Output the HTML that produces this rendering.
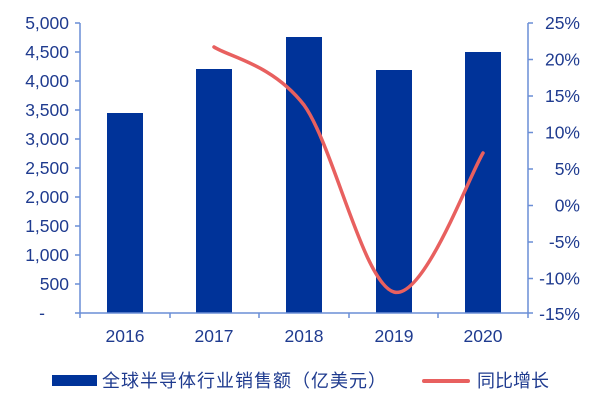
<!DOCTYPE html>
<html><head><meta charset="utf-8"><style>
body{margin:0;background:#fff;}
svg{display:block;font-family:"Liberation Sans","Noto Sans CJK SC",sans-serif;}
</style></head><body>
<svg width="600" height="400" viewBox="0 0 600 400">
<g fill="#003399">
<rect x="107" y="113" width="36" height="200"/>
<rect x="196" y="69" width="36" height="244"/>
<rect x="286" y="37" width="36" height="276"/>
<rect x="376" y="70" width="36" height="243"/>
<rect x="465" y="52" width="36" height="261"/>
</g>
<g stroke="#6a8ed6" stroke-width="1.5" fill="none">
<line x1="80" y1="23" x2="80" y2="313"/>
<line x1="528" y1="23" x2="528" y2="313"/>
<line x1="80" y1="313" x2="528" y2="313"/>
<path d="M75 23H80M75 52H80M75 81H80M75 110H80M75 139H80M75 168H80M75 197H80M75 226H80M75 255H80M75 284H80M75 313H80"/>
<path d="M528 23H533M528 59.5H533M528 96H533M528 132.5H533M528 169H533M528 205.5H533M528 242H533M528 278.5H533M528 313H533"/>
<path d="M80 313V318M170 313V318M259 313V318M349 313V318M438 313V318M528 313V318"/>
</g>
<path d="M214 47 C228.7 56.7 272.5 64.2 304 105 C333.5 145.8 363.5 283.7 394 292 C423.5 300.3 468.2 177.8 483 153" stroke="#e8605f" stroke-width="3.5" fill="none" stroke-linecap="round"/>
<g fill="#1f3b8f" font-size="17.5" text-anchor="end">
<text x="69" y="29">5,000</text><text x="69" y="58">4,500</text><text x="69" y="87">4,000</text>
<text x="69" y="116">3,500</text><text x="69" y="145">3,000</text><text x="69" y="174">2,500</text>
<text x="69" y="203">2,000</text><text x="69" y="232">1,500</text><text x="69" y="261">1,000</text>
<text x="69" y="290">500</text><text x="45" y="319">-</text>
</g>
<g fill="#1f3b8f" font-size="17.5" text-anchor="end">
<text x="580" y="29">25%</text><text x="580" y="65.5">20%</text><text x="580" y="102">15%</text>
<text x="580" y="138.5">10%</text><text x="580" y="175">5%</text><text x="580" y="211.5">0%</text>
<text x="580" y="248">-5%</text><text x="580" y="284.5">-10%</text><text x="580" y="320">-15%</text>
</g>
<g fill="#1f3b8f" font-size="17.5" text-anchor="middle">
<text x="125" y="342">2016</text><text x="214" y="342">2017</text><text x="304" y="342">2018</text>
<text x="394" y="342">2019</text><text x="483" y="342">2020</text>
</g>
<rect x="52" y="375" width="45" height="11" fill="#003399"/>
<text x="102" y="387" font-size="18" letter-spacing="1" fill="#1f3b8f">全球半导体行业销售额（亿美元）</text>
<line x1="424" y1="381" x2="468" y2="381" stroke="#e8605f" stroke-width="4" stroke-linecap="round"/>
<text x="477" y="387" font-size="18" fill="#1f3b8f">同比增长</text>
</svg>
</body></html>
